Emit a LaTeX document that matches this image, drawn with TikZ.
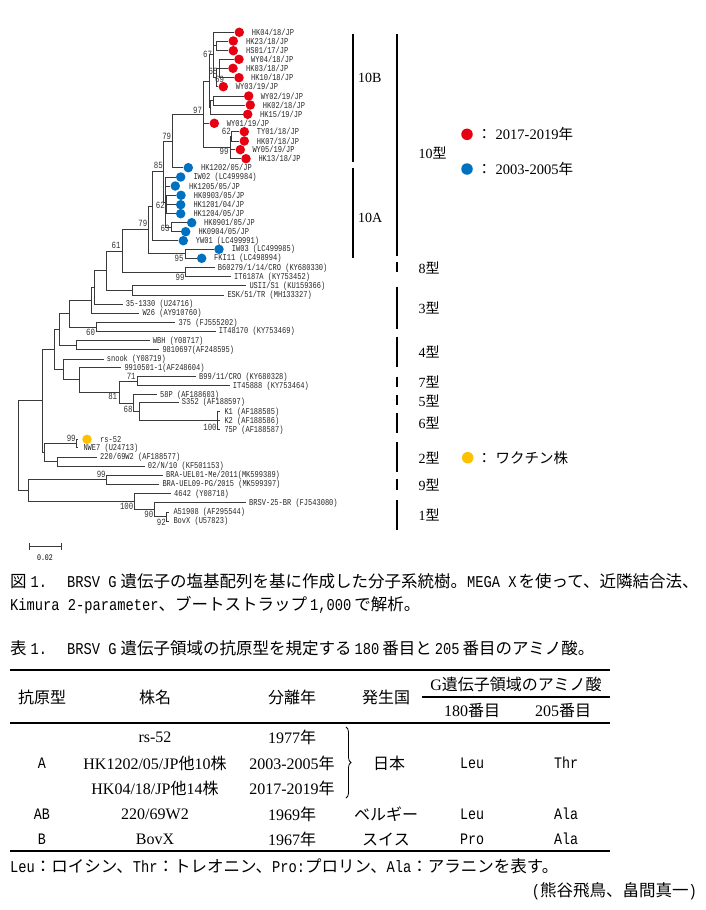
\documentclass[tikz,border=0pt]{standalone}
\usepackage{fontspec}
\usetikzlibrary{decorations.pathreplacing}
\setmainfont{Noto Sans CJK JP}
\newfontfamily\monofam{Liberation Mono}[FakeStretch=0.8333]
\newfontfamily\seriffam{Liberation Serif}
\newfontfamily\treefam{Liberation Mono}[FakeStretch=0.78]
\newcommand\lat[1]{{\monofam #1}}
\newcommand\srf[1]{{\seriffam #1}}
\definecolor{dotred}{HTML}{E60012}
\definecolor{dotblue}{HTML}{0070C0}
\definecolor{dotyel}{HTML}{FFC000}
\definecolor{treegray}{HTML}{3A3A3A}
\tikzset{
  branch/.style={draw=treegray,line width=1pt},
  lbl/.style={font=\treefam\fontsize{9}{9}\selectfont,anchor=west,inner sep=0pt,text=black!85},
  bs/.style={font=\treefam\fontsize{9.5}{9.5}\selectfont,inner sep=0pt,text=black!80},
  dotnode/.style={circle,inner sep=0pt,minimum size=9.5pt,draw=none},
  bigdot/.style={circle,inner sep=0pt,minimum size=11.5pt,draw=none},
  typebar/.style={line width=2.3pt,black},
  typ/.style={font=\fontsize{14}{14}\selectfont,anchor=west,inner sep=0pt},
  captext/.style={font=\fontsize{16.5}{18}\selectfont,anchor=west,inner sep=0pt},
  cell/.style={font=\fontsize{16}{18}\selectfont,inner sep=0pt},
  tabrule/.style={line width=1.1pt,black},
}
\newcommand\lf[5]{\coordinate (#1) at (#2,#3);\node[lbl] (L#1) at (#4,#3) {#5};}
\newcommand\df[6]{\coordinate (#1) at ({#3-5},#2);\node[dotnode,fill=#6] (D#1) at (#3,#2) {};\node[lbl] (L#1) at (#4,#2) {#5};}
\newcommand\kids[2]{\foreach \kid in {#2}{\draw[branch] (#1) |- (\kid);}}
\begin{document}
\begin{tikzpicture}[x=1pt,y=-1pt]
\useasboundingbox (0,0) rectangle (705,910);
\fill[white] (0,0) rectangle (705,910);
% ---------- leaves 10B ----------
\df{t1}{32.3}{239.3}{251.7}{HK04/18/JP}{dotred}
\df{t2}{41}{233.3}{246}{HK23/18/JP}{dotred}
\df{t3}{50.7}{233.3}{246}{HS01/17/JP}{dotred}
\df{t4}{59.3}{239}{251}{WY04/18/JP}{dotred}
\df{t5}{68.3}{233}{246}{HK03/18/JP}{dotred}
\df{t6}{77.7}{239}{251}{HK10/18/JP}{dotred}
\df{t7}{86.7}{223.3}{235.7}{WY03/19/JP}{dotred}
\df{t8}{96}{248.7}{260.7}{WY02/19/JP}{dotred}
\df{t9}{105}{250.3}{262.7}{HK02/18/JP}{dotred}
\df{t10}{114.3}{247.7}{260}{HK15/19/JP}{dotred}
\df{t11}{123.3}{214.3}{226.7}{WY01/19/JP}{dotred}
\df{t12}{131.7}{244.3}{256.7}{TY01/18/JP}{dotred}
\df{t13}{141}{244.3}{256.7}{HK07/18/JP}{dotred}
\df{t14}{149.7}{240.3}{252.3}{WY05/19/JP}{dotred}
\df{t15}{158.7}{246}{258.3}{HK13/18/JP}{dotred}
% ---------- leaves 10A ----------
\df{t16}{167.7}{188.3}{201}{HK1202/05/JP}{dotblue}
\df{t17}{177}{180.7}{193.3}{IW02 (LC499984)}{dotblue}
\df{t18}{186}{175.3}{189}{HK1205/05/JP}{dotblue}
\df{t19}{195.3}{181}{193.7}{HK0903/05/JP}{dotblue}
\df{t20}{204.7}{180.7}{193.3}{HK1201/04/JP}{dotblue}
\df{t21}{213.7}{180.7}{193.3}{HK1204/05/JP}{dotblue}
\df{t22}{222.7}{191.7}{204}{HK0901/05/JP}{dotblue}
\df{t23}{231.7}{185.7}{198.3}{HK0904/05/JP}{dotblue}
\df{t24}{240.7}{183.3}{195.7}{YW01 (LC499991)}{dotblue}
\df{t25}{249.3}{219}{231.7}{IW03 (LC499985)}{dotblue}
\df{t26}{258.3}{201.7}{214}{FKI11 (LC498994)}{dotblue}
% ---------- other leaves ----------
\lf{t27}{214.7}{267.7}{217.7}{B60279/1/14/CRO (KY680330)}
\lf{t28}{231}{276.7}{234}{IT6187A (KY753452)}
\lf{t29}{246.3}{285.7}{249.3}{USII/S1 (KU159366)}
\lf{t30}{224.3}{295.3}{227.3}{ESK/51/TR (MH133327)}
\lf{t31}{122.7}{304}{125.7}{35-1330 (U24716)}
\lf{t32}{139.3}{313}{142.3}{W26 (AY910760)}
\lf{t33}{175.3}{322.7}{178.3}{375 (FJ555202)}
\lf{t34}{215.7}{331.3}{218.7}{IT48170 (KY753469)}
\lf{t35}{149.7}{340.7}{152.7}{WBH (Y08717)}
\lf{t36}{159.3}{349.7}{162.3}{9810697(AF248595)}
\lf{t37}{103.7}{359}{106.7}{snook (Y08719)}
\lf{t38}{121.3}{367.7}{124.3}{9910501-1(AF248604)}
\lf{t39}{196}{376.7}{199}{B99/11/CRO (KY680328)}
\lf{t40}{229.7}{385.7}{232.7}{IT45888 (KY753464)}
\lf{t41}{157}{394.7}{160}{58P (AF188603)}
\lf{t42}{178.7}{402.3}{181.7}{S352 (AF188597)}
\lf{t43}{219.5}{411.7}{224.3}{K1 (AF188585)}
\lf{t44}{219.5}{420.7}{224.3}{K2 (AF188586)}
\lf{t45}{219.5}{429.7}{224.3}{75P (AF188587)}
\coordinate (t46) at (78,439.3);
\node[dotnode,fill=dotyel] (Dt46) at (87,439.3) {};
\node[lbl] (Lt46) at (100,439.3) {rs-52};
\lf{t47}{78}{447.7}{83.3}{NWE7 (U24713)}
\lf{t48}{97}{457}{100}{220/69W2 (AF188577)}
\lf{t49}{144.7}{466}{147.7}{02/N/10 (KF501153)}
\lf{t50}{163}{475.3}{166}{BRA-UEL01-Me/2011(MK599389)}
\lf{t51}{159.3}{484.3}{162.3}{BRA-UEL09-PG/2015 (MK599397)}
\lf{t52}{171}{493.7}{174}{4642 (Y08718)}
\lf{t53}{246}{502.7}{249}{BRSV-25-BR (FJ543080)}
\lf{t54}{168.5}{512}{173.3}{A51908 (AF295544)}
\lf{t55}{168.5}{521}{173.3}{BovX (U57823)}
% ---------- internal nodes ----------
\coordinate (n69) at (219.3,68.5);
\coordinate (n65) at (216.7,77.6);
\coordinate (nA) at (216,45.85);
\coordinate (n67) at (213.3,54.95);
\coordinate (nB) at (213.3,100.5);
\coordinate (nL) at (210.7,107.4);
\coordinate (nU) at (209.3,81.18);
\coordinate (n62b) at (231.7,136.35);
\coordinate (n99b) at (230,147.53);
\coordinate (n97) at (203.3,114.35);
\coordinate (n79a) at (172.7,141.03);
\coordinate (nsub) at (166.7,204.5);
\coordinate (n63) at (171,227.2);
\coordinate (n62a) at (165,202.1);
\coordinate (n85) at (163.3,171.57);
\coordinate (n10) at (152.7,206.13);
\coordinate (n95) at (185,253.8);
\coordinate (n79b) at (148.3,229.97);
\coordinate (n8) at (185,272.2);
\coordinate (n61) at (122.3,251.08);
\coordinate (nUS) at (132.7,290.5);
\coordinate (nX) at (106.7,270.79);
\coordinate (n94) at (94.3,287.4);
\coordinate (n91) at (91,300.2);
\coordinate (n60) at (96,327);
\coordinate (n69b) at (69.3,313.6);
\coordinate (nW) at (76,345.2);
\coordinate (n59) at (59.3,329.4);
\coordinate (n71) at (137.7,381.2);
\coordinate (nK) at (217.3,420.7);
\coordinate (nS) at (139,411.5);
\coordinate (n68) at (133.3,403.1);
\coordinate (n81) at (119,392.15);
\coordinate (n79s) at (79.3,379.93);
\coordinate (n63s) at (63.3,369.46);
\coordinate (n54) at (54.3,349.43);
\coordinate (nRS) at (76.7,443.5);
\coordinate (n57) at (57.7,461.5);
\coordinate (n44) at (44.3,452.5);
\coordinate (n42) at (42.3,400.97);
\coordinate (n9) at (106.7,479.8);
\coordinate (nB2) at (166.7,516.5);
\coordinate (n90) at (154,509.6);
\coordinate (n100) at (134,501.65);
\coordinate (n28) at (28.3,490.73);
\coordinate (root) at (18.3,445.85);
% ---------- branches ----------
\kids{n69}{t4,t5,t6}
\kids{n65}{n69,t7}
\kids{nA}{t2,t3}
\kids{n67}{t1,nA,n65}
\kids{nB}{t8,t9}
\kids{nL}{nB,t10}
\kids{nU}{n67,nL}
\kids{n62b}{t12,t13}
\kids{n99b}{n62b,t14,t15}
\kids{n97}{nU,t11,n99b}
\kids{n79a}{n97,t16}
\kids{nsub}{t19,t20,t21}
\kids{n63}{t22,t23}
\kids{n62a}{t17,t18,nsub,n63}
\kids{n85}{n79a,n62a}
\kids{n10}{n85,t24}
\kids{n95}{t25,t26}
\kids{n79b}{n10,n95}
\kids{n8}{t27,t28}
\kids{n61}{n79b,n8}
\kids{nUS}{t29,t30}
\kids{nX}{n61,nUS}
\kids{n94}{nX,t31}
\kids{n91}{n94,t32}
\kids{n60}{t33,t34}
\kids{n69b}{n91,n60}
\kids{nW}{t35,t36}
\kids{n59}{n69b,nW}
\kids{n71}{t39,t40}
\kids{nK}{t43,t44,t45}
\kids{nS}{t42,nK}
\kids{n68}{t41,nS}
\kids{n81}{n71,n68}
\kids{n79s}{t38,n81}
\kids{n63s}{t37,n79s}
\kids{n54}{n59,n63s}
\kids{nRS}{t46,t47}
\kids{n57}{t48,t49}
\kids{n44}{nRS,n57}
\kids{n42}{n54,n44}
\kids{n9}{t50,t51}
\kids{nB2}{t54,t55}
\kids{n90}{t53,nB2}
\kids{n100}{t52,n90}
\kids{n28}{n9,n100}
\kids{root}{n42,n28}
% ---------- bootstrap values ----------
\node[bs] (b67) at (207.5,54.3) {67};
\node[bs] (b65) at (213,71.7) {65};
\node[bs] (b69) at (219.5,79) {69};
\node[bs] (b97) at (197.5,110.5) {97};
\node[bs] (b62b) at (226.3,131.5) {62};
\node[bs] (b99b) at (224,151) {99};
\node[bs] (b79a) at (166.7,136.7) {79};
\node[bs] (b85) at (158.3,165) {85};
\node[bs] (b62a) at (160.3,205.7) {62};
\node[bs] (b63) at (165,228.3) {63};
\node[bs] (b79b) at (142.8,223.3) {79};
\node[bs] (b61) at (116,245) {61};
\node[bs] (b95) at (179,258.3) {95};
\node[bs] (b99c) at (180,277.5) {99};
\node[bs] (b60) at (90.5,332.7) {60};
\node[bs] (b71) at (131.2,376) {71};
\node[bs] (b81) at (112.7,396.7) {81};
\node[bs] (b68) at (128,409) {68};
\node[bs] (b100a) at (210,427.3) {100};
\node[bs] (b99d) at (71.2,438.3) {99};
\node[bs] (b99e) at (101.2,474.3) {99};
\node[bs] (b100b) at (126.7,506.7) {100};
\node[bs] (b90) at (148.8,514.3) {90};
\node[bs] (b92) at (161.3,522.3) {92};
% ---------- scale bar ----------
\coordinate (sb1) at (29.3,546);
\coordinate (sb2) at (61.7,546);
\draw[branch] (sb1) -- (sb2);
\draw[branch] (29.3,542.5) -- (29.3,549.5) (61.7,542.5) -- (61.7,549.5);
\node[font=\treefam\fontsize{8.5}{8.5}\selectfont,inner sep=0pt] (sbl) at (45,557.5) {0.02};
% ---------- clade bars ----------
\draw[typebar] (352.7,34) -- (352.7,161.7);
\draw[typebar] (352.7,167.7) -- (352.7,257.7);
\node[typ] (c10B) at (358,77.7) {\srf{10B}};
\node[typ] (c10A) at (358,217.7) {\srf{10A}};
\draw[typebar] (397.3,34) -- (397.3,256);
\node[typ] (g10) at (418.5,153.3) {\srf{10}型};
\draw[typebar] (397.3,262.3) -- (397.3,272.3);
\node[typ] (g8) at (418.5,268.3) {\srf{8}型};
\draw[typebar] (397.3,286.7) -- (397.3,329);
\node[typ] (g3) at (418.5,308.3) {\srf{3}型};
\draw[typebar] (397.3,336.7) -- (397.3,366.7);
\node[typ] (g4) at (418.5,352.3) {\srf{4}型};
\draw[typebar] (397.3,376.7) -- (397.3,386.7);
\node[typ] (g7) at (418.5,382.3) {\srf{7}型};
\draw[typebar] (397.3,395) -- (397.3,405);
\node[typ] (g5) at (418.5,400.7) {\srf{5}型};
\draw[typebar] (397.3,413.3) -- (397.3,433.3);
\node[typ] (g6) at (418.5,423.3) {\srf{6}型};
\draw[typebar] (397.3,442.3) -- (397.3,471.7);
\node[typ] (g2) at (418.5,457.7) {\srf{2}型};
\draw[typebar] (397.3,479) -- (397.3,490);
\node[typ] (g9) at (418.5,485) {\srf{9}型};
\draw[typebar] (397.3,500) -- (397.3,530);
\node[typ] (g1) at (418.5,515) {\srf{1}型};
% ---------- legend ----------
\node[bigdot,fill=dotred] (kr) at (467,134.3) {};
\node[typ,font=\fontsize{14.5}{15}\selectfont] (kt1) at (477,134.3) {：\hspace{4pt}\srf{2017-2019}年};
\node[bigdot,fill=dotblue] (kb) at (467,169) {};
\node[typ,font=\fontsize{14.5}{15}\selectfont] (kt2) at (477,169) {：\hspace{4pt}\srf{2003-2005}年};
\node[bigdot,fill=dotyel] (ky) at (467.7,457.7) {};
\node[typ,font=\fontsize{14.5}{15}\selectfont] (kt3) at (477,457.7) {：\hspace{4pt}ワクチン株};
% ---------- captions ----------
\node[captext] (cap1) at (10,581) {図\hspace{4pt}\lat{1.}\hspace{20pt}\lat{BRSV G}\hspace{4pt}遺伝子の塩基配列を基に作成した分子系統樹。\lat{MEGA X}\hspace{2pt}を使って、近隣結合法、};
\node[captext] (cap2) at (10,605) {\lat{Kimura 2-parameter}、ブートストラップ\hspace{3pt}\lat{1,000}\hspace{3pt}で解析。};
\node[captext] (ttl) at (10,648) {表\hspace{4pt}\lat{1.}\hspace{20pt}\lat{BRSV G}\hspace{4pt}遺伝子領域の抗原型を規定する\hspace{3pt}\lat{180}\hspace{3pt}番目と\hspace{3pt}\lat{205}\hspace{3pt}番目のアミノ酸。};
% ---------- table ----------
\coordinate (r0a) at (10,670); \coordinate (r0b) at (610,670);
\coordinate (r1a) at (422,697); \coordinate (r1b) at (610,697);
\coordinate (r2a) at (10,723); \coordinate (r2b) at (610,723);
\coordinate (r3a) at (10,851); \coordinate (r3b) at (610,851);
\draw[tabrule] (r0a) -- (r0b);
\draw[tabrule] (r1a) -- (r1b);
\draw[tabrule] (r2a) -- (r2b);
\draw[tabrule] (r3a) -- (r3b);
\node[cell] (h1) at (42,697.5) {抗原型};
\node[cell] (h2) at (155,697.5) {株名};
\node[cell] (h3) at (292,697.5) {分離年};
\node[cell] (h4) at (386,697.5) {発生国};
\node[cell] (h5) at (516,684) {\srf{G}遺伝子領域のアミノ酸};
\node[cell] (h6) at (472,711) {\srf{180}番目};
\node[cell] (h7) at (563,711) {\srf{205}番目};
\node[cell] (a1) at (155,737) {\srf{rs-52}};
\node[cell] (a2) at (292,737) {\srf{1977}年};
\node[cell] (b1) at (42,763) {\lat{A}};
\node[cell] (b2) at (155,763) {\srf{HK1202/05/JP}他\srf{10}株};
\node[cell] (b3) at (292,763) {\srf{2003-2005}年};
\node[cell] (b4) at (389,763) {日本};
\node[cell] (b5) at (472,763) {\lat{Leu}};
\node[cell] (b6) at (566,763) {\lat{Thr}};
\node[cell] (c1) at (155,788) {\srf{HK04/18/JP}他\srf{14}株};
\node[cell] (c2) at (292,788) {\srf{2017-2019}年};
\coordinate (brt) at (346,727); \coordinate (brb) at (346,798);
\draw[decorate,decoration={brace,amplitude=5pt},line width=0.8pt] (brt) -- (brb);
\node[cell] (d1) at (42,814) {\lat{AB}};
\node[cell] (d2) at (155,814) {\srf{220/69W2}};
\node[cell] (d3) at (292,814) {\srf{1969}年};
\node[cell] (d4) at (386,814) {ベルギー};
\node[cell] (d5) at (472,814) {\lat{Leu}};
\node[cell] (d6) at (566,814) {\lat{Ala}};
\node[cell] (e1) at (42,839) {\lat{B}};
\node[cell] (e2) at (155,839) {\srf{BovX}};
\node[cell] (e3) at (292,839) {\srf{1967}年};
\node[cell] (e4) at (386,839) {スイス};
\node[cell] (e5) at (472,839) {\lat{Pro}};
\node[cell] (e6) at (566,839) {\lat{Ala}};
\node[captext] (fn) at (10,866) {\lat{Leu}：ロイシン、\lat{Thr}：トレオニン、\lat{Pro:}プロリン、\lat{Ala}：アラニンを表す。};
\node[captext,anchor=east] (au) at (697,891) {\lat{(}熊谷飛鳥、畠間真一\lat{)}};
\end{tikzpicture}
\end{document}
